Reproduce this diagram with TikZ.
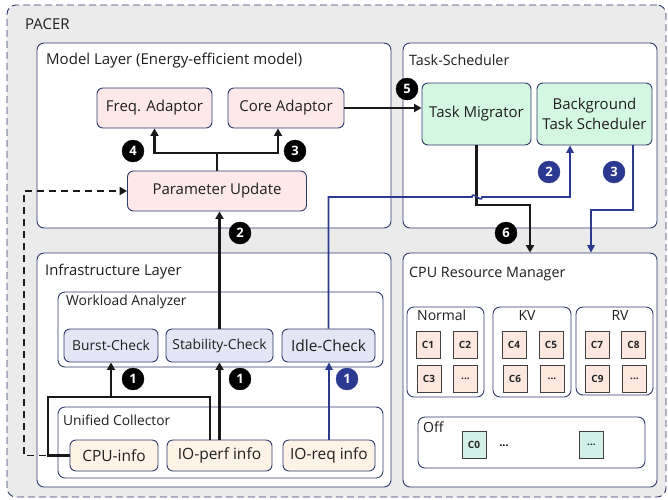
\documentclass[tikz,border=0pt]{standalone}
\usepackage{fontspec}
\setmainfont{Open Sans}
\usetikzlibrary{arrows.meta}
\definecolor{navy}{HTML}{2F3A6A}
\definecolor{bluel}{HTML}{2B3A90}
\definecolor{outerbg}{HTML}{EBEBEB}
\definecolor{pinkf}{HTML}{FDE9EA}
\definecolor{greenf}{HTML}{D4F7E1}
\definecolor{lavf}{HTML}{E5E6F5}
\definecolor{creamf}{HTML}{FDF3E6}
\definecolor{cellf}{HTML}{FCE8DE}
\definecolor{tealf}{HTML}{D3F0E8}
\tikzset{
  layer/.style={draw=navy, line width=0.9pt, fill=white, rounded corners=7pt, inner sep=0pt},
  group/.style={draw=navy, line width=0.9pt, fill=white, rounded corners=7pt, inner sep=0pt},
  comp/.style={draw=navy, line width=0.9pt, rounded corners=6pt, inner sep=0pt, align=center, font=\fontsize{15}{20}\selectfont, text=black!88},
  pinkbox/.style={comp, fill=pinkf},
  greenbox/.style={comp, fill=greenf},
  lavbox/.style={comp, fill=lavf, font=\fontsize{13.8}{16}\selectfont},
  creambox/.style={comp, fill=creamf, font=\fontsize{15.5}{18}\selectfont},
  cell/.style={draw=black!75, line width=0.8pt, fill=cellf, minimum width=24pt, minimum height=27pt, inner sep=0pt, font=\bfseries\fontsize{10}{12}\selectfont, text=black!85},
  tcell/.style={cell, fill=tealf},
  ttl/.style={anchor=west, inner sep=0pt, font=\fontsize{14.3}{16}\selectfont, text=black!88},
  subttl/.style={ttl, font=\fontsize{13.8}{16}\selectfont},
  grp/.style={inner sep=0pt, font=\fontsize{14}{16}\selectfont, text=black!88},
  badge/.style={circle, fill=black, draw=black, minimum size=22pt, inner sep=0pt, text=white, font=\bfseries\fontsize{13}{15}\selectfont},
  bbadge/.style={badge, fill=bluel, draw=bluel},
  conn/.style={line width=2.1pt, draw=black!90, -{Triangle[length=7.5pt,width=8pt]}},
  line/.style={line width=2.1pt, draw=black!90},
  bconn/.style={line width=1.6pt, draw=bluel, -{Triangle[length=7.5pt,width=7.5pt]}},
  dconn/.style={line width=1.9pt, draw=black!90, dash pattern=on 7pt off 5pt, -{Triangle[length=7.5pt,width=8pt]}}
}
\begin{document}
\begin{tikzpicture}[x=1pt,y=-1pt]
\useasboundingbox (0,0) rectangle (668,499);
% outer
\node[draw=navy, line width=0.9pt, dash pattern=on 7pt off 4pt, fill=outerbg, rounded corners=9pt, minimum width=659pt, minimum height=492pt, inner sep=0pt] (pacer) at (336.5,251) {};
\node[ttl, font=\fontsize{15}{17}\selectfont] (pacert) at (25,24) {PACER};
% layers
\node[layer, minimum width=354pt, minimum height=185pt] (model) at (214,135.5) {};
\node[ttl, font=\fontsize{15}{17}\selectfont] (modelt) at (46,61) {Model Layer (Energy-efficient model)};
\node[layer, minimum width=254pt, minimum height=185pt] (tasks) at (530,135.5) {};
\node[ttl] (taskst) at (409,60) {Task-Scheduler};
\node[layer, minimum width=354pt, minimum height=234pt] (infra) at (214,370) {};
\node[ttl, font=\fontsize{14.8}{17}\selectfont] (infrat) at (45,272) {Infrastructure Layer};
\node[layer, minimum width=254pt, minimum height=234pt] (crm) at (530,370) {};
\node[ttl] (crmt) at (409,274) {CPU Resource Manager};
% model layer
\node[pinkbox, minimum width=115pt, minimum height=40pt] (freq) at (154.5,108) {Freq. Adaptor};
\node[pinkbox, minimum width=116pt, minimum height=40pt] (core) at (286,108) {Core Adaptor};
\node[pinkbox, minimum width=179pt, minimum height=40pt] (pu) at (217,191) {Parameter Update};
% task scheduler
\node[greenbox, minimum width=109pt, minimum height=62pt] (tm) at (476.5,114) {Task Migrator};
\node[greenbox, minimum width=115pt, minimum height=62pt] (bts) at (594.5,114) {Background\\Task Scheduler};
% infrastructure
\node[group, minimum width=325pt, minimum height=75pt] (wa) at (220.5,329.5) {};
\node[subttl] (wat) at (66,302) {Workload Analyzer};
\node[lavbox, minimum width=94pt, minimum height=33pt] (burst) at (111,345.5) {Burst-Check};
\node[lavbox, minimum width=107pt, minimum height=33pt] (stab) at (219.5,345.5) {Stability-Check};
\node[lavbox, minimum width=93pt, minimum height=33pt, font=\fontsize{15.5}{18}\selectfont] (idle) at (328.5,345.5) {Idle-Check};
\node[group, minimum width=325pt, minimum height=71pt] (uc) at (220.5,442.5) {};
\node[subttl] (uct) at (63,420) {Unified Collector};
\node[creambox, minimum width=88pt, minimum height=31pt] (cpu) at (114,455.5) {CPU-info};
\node[creambox, minimum width=105pt, minimum height=31pt] (ioperf) at (219.5,455.5) {IO-perf info};
\node[creambox, minimum width=92pt, minimum height=31pt] (ioreq) at (329,455.5) {IO-req info};
% CPU resource manager
\node[group, minimum width=77pt, minimum height=90pt] (normal) at (445.5,352) {};
\node[grp, anchor=west] (normalt) at (417,315) {Normal};
\node[group, minimum width=78pt, minimum height=90pt] (kv) at (532,352) {};
\node[grp] (kvt) at (527,315) {KV};
\node[group, minimum width=77pt, minimum height=88pt] (rv) at (614.5,351) {};
\node[grp] (rvt) at (620,315) {RV};
\node[cell] (c1) at (428,344.5) {C1};
\node[cell] (c2) at (465,344.5) {C2};
\node[cell] (c3) at (429,379) {C3};
\node[cell] (cn) at (465.5,379) {...};
\node[cell] (c4) at (514,344.5) {C4};
\node[cell] (c5) at (551,344.5) {C5};
\node[cell] (c6) at (515,379) {C6};
\node[cell] (ck) at (552,379) {...};
\node[cell] (c7) at (597,344.5) {C7};
\node[cell] (c8) at (633.5,344.5) {C8};
\node[cell] (c9) at (597.5,379) {C9};
\node[cell] (cr) at (634.5,379) {...};
\node[group, minimum width=227pt, minimum height=51pt] (off) at (531.5,442.5) {};
\node[grp, anchor=west] (offt) at (423,427) {Off};
\node[tcell] (c0) at (474,444.5) {C0};
\node[inner sep=0pt, font=\bfseries\fontsize{11}{12}\selectfont] (offdots) at (504,446) {...};
\node[tcell] (cz) at (591.5,444.5) {...};
% connectors
\coordinate (split) at (217,153);
\coordinate (j1) at (111,397);
\coordinate (t6) at (530,205);
\coordinate (t3) at (591,210);
\coordinate (hopa) at (472,197);
\coordinate (hopb) at (482,197);
\draw[dconn] (cpu.west) -- ++(-46,0) |- (pu.west);
\draw[line] (pu.north) -- (split);
\draw[conn] (split) -| (freq.south);
\draw[conn] (split) -| ([xshift=-8pt]core.south);
\draw[conn] (stab.north) -- (stab.north |- pu.south);
\draw[conn] (core.east) -- (core.east -| tm.west);
\draw[conn] (tm.south) |- (t6) -- (t6 |- crm.north);
\draw[bconn] ([xshift=38.5pt]bts.south) |- (t3) -- (t3 |- crm.north);
\draw[bconn] (idle.north) |- (hopa) .. controls ++(0,-6.7) and ([yshift=-6.7pt]hopb) .. (hopb) -| ([xshift=-24.5pt]bts.south);
\draw[bconn] (ioreq.north) -- (ioreq.north |- idle.south);
\draw[line] (cpu.west) -- ++(-22,0) |- (j1);
\draw[line] ([xshift=-9.5pt]ioperf.north) |- (j1);
\draw[conn] (j1) -- (burst.south);
\draw[conn] (ioperf.north) -- (stab.south);
% badges
\node[badge] (b4) at (133,151) {4};
\node[badge] (b3) at (295,151) {3};
\node[badge] (b2) at (240,233) {2};
\node[badge] (b5) at (407,89) {5};
\node[badge] (b6) at (506,233) {6};
\node[bbadge] (bb2) at (549,172) {2};
\node[bbadge] (bb3) at (614,172) {3};
\node[badge] (b1a) at (133,379) {1};
\node[badge] (b1b) at (240,379) {1};
\node[bbadge] (bb1) at (347,379) {1};
\end{tikzpicture}
\end{document}
